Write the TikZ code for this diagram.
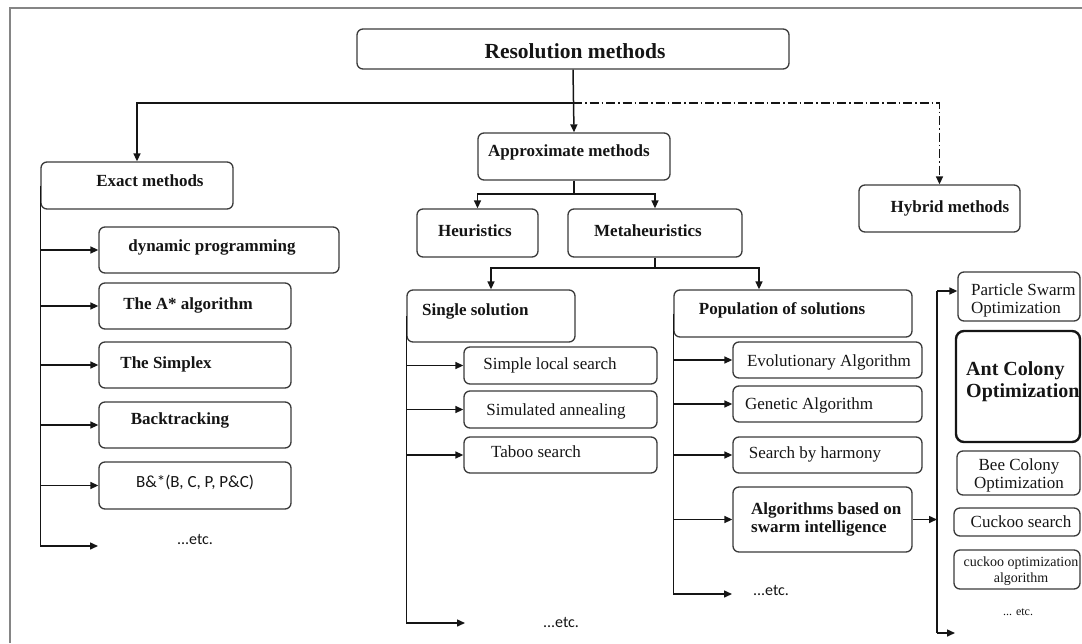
\documentclass[tikz,border=0pt]{standalone}
\usepackage{fontspec}
\setmainfont{Liberation Serif}
\newfontfamily\calib{Carlito}
\usetikzlibrary{arrows.meta,calc}
\definecolor{boxgray}{HTML}{3A3A3A}
\definecolor{inkgray}{HTML}{151515}
\definecolor{framegray}{HTML}{858585}
\begin{document}
\begin{tikzpicture}[x=1pt,y=-1pt,
  box/.style={draw=boxgray,line width=1.3pt,rounded corners=6pt,inner sep=0pt},
  heavybox/.style={box,draw=inkgray,line width=2.4pt,rounded corners=8pt},
  lbl/.style={inner sep=0pt,text=inkgray,font=\fontsize{17}{18}\selectfont},
  blbl/.style={lbl,font=\fontsize{17}{18}\selectfont\bfseries},
  slbl/.style={lbl,font=\calib\fontsize{17}{18}\selectfont},
  elbl/.style={lbl,font=\calib\fontsize{16}{18}\selectfont},
  conn/.style={draw=inkgray,line width=1.5pt},
  arr/.style={conn,-{Triangle[length=8pt,width=7pt]}},
  dashdot/.style={dash pattern=on 9pt off 3pt on 1.5pt off 3pt}]
\useasboundingbox (0,0) rectangle (1082,643);
\draw[framegray,line width=2.5pt] (10,643) -- (10,8) -- (1082,8);

% top level
\node[box,minimum width=432pt,minimum height=40pt] (res) at (573,49) {};
\node[blbl,font=\fontsize{21.5}{24}\selectfont\bfseries] (tres) at (575,51) {Resolution methods};
\node[box,minimum width=192pt,minimum height=47pt] (exact) at (137,185.5) {};
\node[blbl] (texact) at (150,181) {Exact methods};
\node[box,minimum width=192pt,minimum height=47pt] (approx) at (574,156.5) {};
\node[blbl] (tapprox) at (569,152) {Approximate methods};
\node[box,minimum width=161pt,minimum height=47pt] (hybrid) at (939.5,208.5) {};
\node[blbl] (thybrid) at (950,208) {Hybrid methods};

% approximate methods
\node[box,minimum width=121pt,minimum height=48pt] (heur) at (477.5,233) {};
\node[blbl] (theur) at (475,231) {Heuristics};
\node[box,minimum width=174pt,minimum height=48pt] (meta) at (655,233) {};
\node[blbl] (tmeta) at (648,231) {Metaheuristics};
\node[box,minimum width=168pt,minimum height=52pt] (single) at (491,316) {};
\node[blbl,anchor=west] (tsingle) at (422,311) {Single solution};
\node[box,minimum width=238pt,minimum height=47pt] (pop) at (793,313.5) {};
\node[blbl] (tpop) at (782,310) {Population of solutions};

% exact methods
\node[box,minimum width=240pt,minimum height=46pt] (dp) at (219,250) {};
\node[blbl] (tdp) at (212,247) {dynamic programming};
\node[box,minimum width=192pt,minimum height=46pt] (astar) at (195,306) {};
\node[blbl] (tastar) at (188,305) {The A* algorithm};
\node[box,minimum width=192pt,minimum height=46pt] (simplex) at (195,365) {};
\node[blbl] (tsimplex) at (166,364) {The Simplex};
\node[box,minimum width=192pt,minimum height=46pt] (backtr) at (195,425) {};
\node[blbl] (tbacktr) at (180,420) {Backtracking};
\node[box,minimum width=192pt,minimum height=47pt] (bnb) at (195,485.5) {};
\node[slbl] (tbnb) at (195,482) {B\&*(B, C, P, P\&C)};
\node[elbl] (tetc1) at (195,539) {...etc.};
\coordinate (e1) at (98,546);

% single solution
\node[box,minimum width=193pt,minimum height=37pt] (sls) at (560.5,365.5) {};
\node[lbl] (tsls) at (550,365) {Simple local search};
\node[box,minimum width=193pt,minimum height=37pt] (sa) at (560.5,409.5) {};
\node[lbl] (tsa) at (556,411) {Simulated annealing};
\node[box,minimum width=193pt,minimum height=36pt] (taboo) at (560.5,455) {};
\node[lbl] (ttaboo) at (536,452) {Taboo search};
\node[elbl] (tetc2) at (561,622) {...etc.};
\coordinate (e2) at (465,623);

% population of solutions
\node[box,minimum width=189pt,minimum height=36pt] (evo) at (827.5,360) {};
\node[lbl] (tevo) at (829,362) {Evolutionary Algorithm};
\node[box,minimum width=189pt,minimum height=36pt] (ga) at (827.5,404) {};
\node[lbl] (tga) at (809,405) {Genetic Algorithm};
\node[box,minimum width=189pt,minimum height=36pt] (harm) at (827.5,455) {};
\node[lbl] (tharm) at (815,454) {Search by harmony};
\node[box,minimum width=179pt,minimum height=65pt] (swarm) at (822.5,519.5) {};
\node[blbl,anchor=west,align=left] (tswarm) at (751,519) {Algorithms based on\\swarm intelligence};
\node[elbl] (tetc3) at (771,590) {...etc.};
\coordinate (e3) at (732,594);

% swarm intelligence algorithms
\node[box,minimum width=122pt,minimum height=49pt] (pso) at (1019,296.5) {};
\node[lbl,anchor=west,align=left] (tpso) at (971,300) {Particle Swarm\\Optimization};
\node[heavybox,minimum width=124pt,minimum height=111pt] (aco) at (1018,386.5) {};
\node[blbl,anchor=west,align=left,font=\fontsize{20}{22}\selectfont\bfseries] (taco) at (966,382) {Ant Colony\\Optimization};
\node[box,minimum width=123pt,minimum height=44pt] (bee) at (1018.5,473) {};
\node[lbl,align=center] (tbee) at (1019,475) {Bee Colony\\Optimization};
\node[box,minimum width=126pt,minimum height=28pt] (cuckoo) at (1017,522) {};
\node[lbl] (tcuckoo) at (1021,522) {Cuckoo search};
\node[box,minimum width=126pt,minimum height=39pt] (coa) at (1017,569.5) {};
\node[lbl,align=center,font=\fontsize{14}{16}\selectfont] (tcoa) at (1021,571) {cuckoo optimization\\algorithm};
\node[lbl,font=\fontsize{12}{14}\selectfont] (tetc4) at (1018,612) {... etc.};
\coordinate (rtop) at (937,291);
\coordinate (rbot) at (937,633);
\coordinate (e4) at (955,633);

% junctions
\coordinate (j1) at (573,103);
\coordinate (j2) at (574,194);
\coordinate (j3) at (655,268);

% connectors: top level
\draw[arr] (res.south) -- (approx.north);
\draw[arr] (j1) -| (exact.north);
\draw[arr,dashdot] (j1) -| (hybrid.north);
\draw[conn] (approx.south) -- (j2);
\draw[arr] (j2) -| (heur.north);
\draw[arr] (j2) -| (meta.north);
\draw[conn] (meta.south) -- (j3);
\draw[arr] (j3) -| (single.north);
\draw[arr] (j3) -| ([xshift=-34pt]pop.north);

% exact methods branches
\draw[conn] (exact.west) -- (exact.west |- e1);
\foreach \n in {dp,astar,simplex,backtr,bnb}
  \draw[arr] (exact.west |- \n.west) -- (\n.west);
\draw[arr] (exact.west |- e1) -- (e1);

% single solution branches
\draw[conn] (single.west) -- (single.west |- e2);
\foreach \n in {sls,sa,taboo}
  \draw[arr] (single.west |- \n.west) -- (\n.west);
\draw[arr] (single.west |- e2) -- (e2);

% population branches
\draw[conn] (pop.west) -- (pop.west |- e3);
\foreach \n in {evo,ga,harm,swarm}
  \draw[arr] (pop.west |- \n.west) -- (\n.west);
\draw[arr] (pop.west |- e3) -- (e3);

% swarm intelligence branches
\draw[arr] (swarm.east) -- (swarm.east -| rtop);
\draw[conn] (rtop) -- (rbot);
\draw[arr] (rtop) -- (rtop -| pso.west);
\draw[arr] (rbot) -- (e4);
\end{tikzpicture}
\end{document}
